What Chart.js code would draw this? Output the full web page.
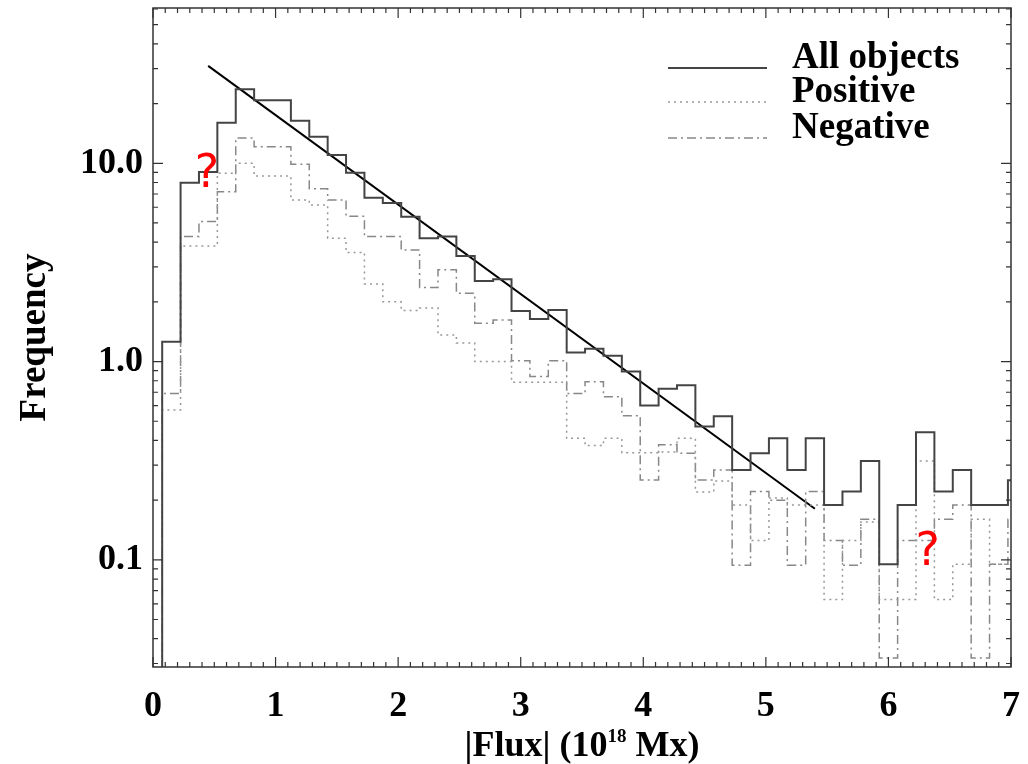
<!DOCTYPE html>
<html>
<head>
<meta charset="utf-8">
<script src="https://cdn.jsdelivr.net/npm/chart.js@4.4.0/dist/chart.umd.min.js"></script>
<style>
  html, body { margin: 0; padding: 0; background: #fff; }
  #wrap { width: 1028px; height: 764px; }
</style>
</head>
<body>
<div id="wrap"><canvas id="flux-chart" width="1028" height="764"></canvas></div>
<script>
// histogram bins (centres, 10^18 Mx)
const binCenters = [0.00, 0.15, 0.30, 0.45, 0.60, 0.75, 0.90, 1.05, 1.20, 1.35,
                    1.50, 1.65, 1.80, 1.95, 2.10, 2.25, 2.40, 2.55, 2.70, 2.85,
                    3.00, 3.15, 3.30, 3.45, 3.60, 3.75, 3.90, 4.05, 4.20, 4.35,
                    4.50, 4.65, 4.80, 4.95, 5.10, 5.25, 5.40, 5.55, 5.70, 5.85,
                    6.00, 6.15, 6.30, 6.45, 6.60, 6.75, 6.90, 7.05];
const binWidth = 0.15;

const allObjects = [0, 1.26, 7.98, 9.04, 16.0, 23.6, 20.8, 20.8, 16.4, 13.6,
                    11.0, 8.97, 6.7, 6.31, 5.38, 4.19, 4.27, 3.41, 2.55, 2.60,
                    1.80, 1.64, 1.82, 1.11, 1.16, 1.07, 0.89, 0.60, 0.73, 0.76,
                    0.47, 0.53, 0.284, 0.345, 0.41, 0.284, 0.41, 0.189, 0.221, 0.315,
                    0.095, 0.189, 0.44, 0.221, 0.284, 0.189, 0.189, 0.252];
const positive   = [0, 0.57, 3.83, 3.83, 8.9, 10.0, 8.63, 8.63, 6.53, 6.16,
                    4.19, 3.55, 2.46, 2.0, 1.81, 1.86, 1.36, 1.24, 1.0, 1.0,
                    0.787, 0.787, 0.787, 0.41, 0.377, 0.41, 0.347, 0.347, 0.35, 0.41,
                    0.22, 0.25, 0.189, 0.125, 0.205, 0.189, 0.189, 0.063, 0.125, 0.155,
                    0.063, 0.063, 0.315, 0.063, 0.095, 0.16, 0.095, 0.095];
const negative   = [0, 0.69, 4.27, 5.08, 7.19, 13.4, 12.1, 12.1, 9.89, 7.45,
                    6.53, 5.4, 4.27, 4.27, 3.65, 2.36, 2.90, 2.21, 1.56, 1.62,
                    1.01, 0.84, 1.01, 0.69, 0.79, 0.665, 0.533, 0.253, 0.38, 0.345,
                    0.253, 0.284, 0.094, 0.221, 0.2, 0.094, 0.221, 0.125, 0.094, 0.16,
                    0.032, 0.125, 0.125, 0.16, 0.189, 0.032, 0.095, 0.16];

// power-law fit drawn over the total histogram
const fitFlux = [0.45, 5.40];
const fitFreq = [31.0, 0.181];

const xTickLabels = ['0', '1', '2', '3', '4', '5', '6', '7'];
const yTickValues = [0.1, 1, 10];
const yTickLabels = ['0.1', '1.0', '10.0'];
const legendLabels = ['All objects', 'Positive', 'Negative'];
const queryMarks = [{ x: 0.44, y: 8.7 }, { x: 6.32, y: 0.108 }];

const serifBold = size => 'bold ' + size + 'px "Liberation Serif", "Times New Roman", serif';

const styles = [
    { color: '#444', width: 2, dash: [] },
    { color: '#999', width: 1.5, dash: [2, 4] },
    { color: '#888', width: 1.5, dash: [9, 4, 2, 4] }
];

function stepPoints(values) {
    const pts = values.map((v, i) => ({ x: binCenters[i] - binWidth / 2, y: v > 0 ? v : 1e-3 }));
    const last = values.length - 1;
    pts.push({ x: binCenters[last] + binWidth / 2, y: pts[last].y });
    return pts;
}

function histDataset(label, values, style) {
    return {
        label: label,
        data: stepPoints(values),
        stepped: 'before',   // hold each bin value up to the next edge
        borderColor: style.color,
        borderWidth: style.width,
        borderDash: style.dash,
        pointRadius: 0,
        fill: false
    };
}

function noLabelPadding(s) {
    s.paddingTop = 0;
    s.paddingBottom = 0;
    s.paddingLeft = 0;
    s.paddingRight = 0;
}

// box with inward ticks on all four sides, like the original plot
const framePlugin = {
    id: 'frame',
    afterDatasetsDraw(chart) {
        const { ctx, chartArea: a, scales: { x, y } } = chart;
        ctx.save();
        ctx.strokeStyle = '#333';
        ctx.lineWidth = 1.5;
        ctx.strokeRect(a.left, a.top, a.right - a.left, a.bottom - a.top);
        ctx.lineWidth = 1.2;
        ctx.beginPath();
        for (let i = 0; i <= 70; i++) {
            const px = x.getPixelForValue(i / 10);
            const len = i % 10 === 0 ? 10 : 5;
            ctx.moveTo(px, a.bottom); ctx.lineTo(px, a.bottom - len);
            ctx.moveTo(px, a.top); ctx.lineTo(px, a.top + len);
        }
        for (let d = -2; d <= 1; d++) {
            for (let m = 1; m <= 9; m++) {
                const v = m * Math.pow(10, d);
                if (v < y.min || v > y.max) continue;
                const py = y.getPixelForValue(v);
                const len = m === 1 ? 10 : 5;
                ctx.moveTo(a.left, py); ctx.lineTo(a.left + len, py);
                ctx.moveTo(a.right, py); ctx.lineTo(a.right - len, py);
            }
        }
        ctx.stroke();
        ctx.restore();
    }
};

const labelsPlugin = {
    id: 'labels',
    afterDraw(chart) {
        const { ctx, chartArea: a, scales: { x, y } } = chart;
        ctx.save();
        ctx.fillStyle = '#000';

        // y title
        ctx.save();
        ctx.translate(45, (a.top + a.bottom) / 2);
        ctx.rotate(-Math.PI / 2);
        ctx.font = serifBold(37);
        ctx.textAlign = 'center';
        ctx.textBaseline = 'alphabetic';
        ctx.fillText('Frequency', 0, 0);
        ctx.restore();

        // x title with superscript
        const base = 756;
        const p1 = '|Flux| (10', sup = '18', p2 = ' Mx)';
        ctx.textBaseline = 'alphabetic';
        ctx.textAlign = 'left';
        ctx.font = serifBold(36);
        const w1 = ctx.measureText(p1).width, w3 = ctx.measureText(p2).width;
        ctx.font = serifBold(19);
        const w2 = ctx.measureText(sup).width;
        let sx = (a.left + a.right) / 2 - (w1 + w2 + w3) / 2;
        ctx.font = serifBold(36);
        ctx.fillText(p1, sx, base);
        ctx.font = serifBold(19);
        ctx.fillText(sup, sx + w1, base - 14);
        ctx.font = serifBold(36);
        ctx.fillText(p2, sx + w1 + w2, base);

        // legend
        const legendY = [68, 102, 138];
        legendLabels.forEach((t, i) => {
            const s = styles[i];
            ctx.strokeStyle = s.color;
            ctx.lineWidth = s.width;
            ctx.setLineDash(s.dash);
            ctx.beginPath();
            ctx.moveTo(668, legendY[i]);
            ctx.lineTo(767, legendY[i]);
            ctx.stroke();
            ctx.setLineDash([]);
            ctx.font = serifBold(37);
            ctx.fillText(t, 792, legendY[i]);
        });

        // red question marks in the picture
        ctx.fillStyle = '#ff0000';
        ctx.font = '46px "DejaVu Sans", sans-serif';
        ctx.textAlign = 'center';
        ctx.textBaseline = 'middle';
        queryMarks.forEach(q => {
            ctx.fillText('?', x.getPixelForValue(q.x), y.getPixelForValue(q.y));
        });
        ctx.restore();
    }
};

const ctx = document.getElementById('flux-chart').getContext('2d');
new Chart(ctx, {
    type: 'line',
    data: {
        datasets: [
            histDataset(legendLabels[0], allObjects, styles[0]),
            histDataset(legendLabels[1], positive, styles[1]),
            histDataset(legendLabels[2], negative, styles[2]),
            {
                label: 'fit',
                data: fitFlux.map((f, i) => ({ x: f, y: fitFreq[i] })),
                borderColor: '#000',
                borderWidth: 2,
                pointRadius: 0,
                fill: false
            }
        ]
    },
    options: {
        responsive: false,
        animation: false,
        layout: { padding: { left: 0, top: 8, right: 17, bottom: 0 } },
        plugins: { legend: { display: false }, tooltip: { enabled: false } },
        scales: {
            x: {
                type: 'linear',
                min: 0,
                max: 7,
                afterBuildTicks: s => { s.ticks = xTickLabels.map(t => ({ value: Number(t) })); },
                afterFit: s => { s.height = 97; noLabelPadding(s); },
                ticks: {
                    autoSkip: false,
                    maxRotation: 0,
                    padding: 18,
                    color: '#000',
                    font: { family: '"Liberation Serif", serif', weight: 'bold', size: 36 },
                    callback: (v, i) => xTickLabels[i]
                },
                grid: { display: false, drawTicks: false },
                border: { display: false }
            },
            y: {
                type: 'logarithmic',
                min: 0.0288,
                max: 60.7,
                afterBuildTicks: s => { s.ticks = yTickValues.map(v => ({ value: v })); },
                afterFit: s => { s.width = 153; noLabelPadding(s); },
                ticks: {
                    autoSkip: false,
                    padding: 10,
                    color: '#000',
                    font: { family: '"Liberation Serif", serif', weight: 'bold', size: 36 },
                    callback: (v, i) => yTickLabels[i]
                },
                grid: { display: false, drawTicks: false },
                border: { display: false }
            }
        }
    },
    plugins: [framePlugin, labelsPlugin]
});
</script>
</body>
</html>
